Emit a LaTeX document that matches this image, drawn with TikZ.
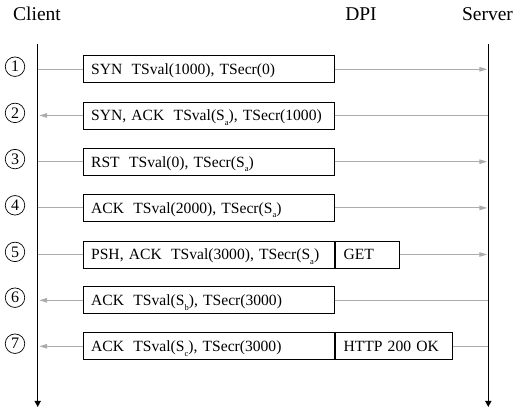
\documentclass[tikz,border=0pt]{standalone}
\usepackage{fontspec}
\setmainfont{Liberation Serif}
\usetikzlibrary{arrows.meta}
\definecolor{msggray}{RGB}{172,172,172}
\newcommand{\gap}{\hspace{0.6em}}
\newcommand{\lowidx}[1]{\raisebox{-0.28em}{\fontsize{8.5}{9}\selectfont #1}}
\tikzset{
  x=1pt, y=-1pt,
  party/.style={font=\fontsize{19.5}{22}\selectfont, anchor=base, inner sep=0pt},
  lifeline/.style={draw=black, line width=1.4pt, -{Triangle[length=6pt,width=6pt]}},
  pktbox/.style={draw=black, line width=0.9pt, minimum height=27pt, text depth=0pt,
                 anchor=west, align=left, inner xsep=8pt, inner ysep=0pt,
                 font=\fontsize{15.6}{18}\selectfont},
  hdrbox/.style={pktbox, minimum width=251.5pt, text width=235.5pt},
  stepnum/.style={draw=black, circle, line width=0.7pt, minimum size=19.5pt, inner sep=0pt,
                  font=\fontsize{16}{17}\selectfont},
  msgline/.style={draw=msggray, line width=1.2pt},
  msgarrow/.style={msgline, -{Triangle[length=8pt,width=4.5pt]}},
}
\begin{document}
\begin{tikzpicture}
  \useasboundingbox (0,0) rectangle (514,411);

  % parties
  \node[party] (client) at (37,20.7) {Client};
  \node[party] (dpi)    at (361,20.7) {DPI};
  \node[party] (server) at (487.5,20.7) {Server};

  % lifelines
  \coordinate (ctop) at (37.7,44);
  \coordinate (cbot) at (37.7,407);
  \coordinate (stop) at (488.3,44);
  \coordinate (sbot) at (488.3,407);
  \draw[lifeline] (ctop) -- (cbot);
  \draw[lifeline] (stop) -- (sbot);

  % rows: step number and anchors on both lifelines
  \foreach \i/\yy in {1/69.3,2/115.5,3/161.7,4/207.9,5/254.5,6/300.3,7/346.3}{
    \node[stepnum] (n\i) at (15,\yy-2.6) {\i};
    \coordinate (c\i) at (37.7,\yy);
    \coordinate (s\i) at (488.3,\yy);
  }

  % header boxes
  \node[hdrbox] (b1) at (c1 -| 82.7,0) {\mbox{SYN\gap TSval(1000), TSecr(0)}};
  \node[hdrbox] (b2) at (c2 -| 82.7,0) {\mbox{SYN, ACK\gap TSval(S\lowidx{a}), TSecr(1000)}};
  \node[hdrbox] (b3) at (c3 -| 82.7,0) {\mbox{RST\gap TSval(0), TSecr(S\lowidx{a})}};
  \node[hdrbox] (b4) at (c4 -| 82.7,0) {\mbox{ACK\gap TSval(2000), TSecr(S\lowidx{a})}};
  \node[hdrbox] (b5) at (c5 -| 82.7,0) {\mbox{PSH, ACK\gap TSval(3000), TSecr(S\lowidx{a})}};
  \node[hdrbox] (b6) at (c6 -| 82.7,0) {\mbox{ACK\gap TSval(S\lowidx{b}), TSecr(3000)}};
  \node[hdrbox] (b7) at (c7 -| 82.7,0) {\mbox{ACK\gap TSval(S\lowidx{c}), TSecr(3000)}};

  % payload boxes
  \node[pktbox, minimum width=64pt, text width=48pt] (p5) at (b5.east) {GET};
  \node[pktbox, minimum width=117pt, text width=101pt] (p7) at (b7.east) {HTTP 200 OK};

  % client -> server
  \foreach \i in {1,3,4}{
    \draw[msgline] (c\i) -- (b\i.west);
    \draw[msgarrow, shorten >=1pt] (b\i.east) -- (s\i);
  }
  \draw[msgline] (c5) -- (b5.west);
  \draw[msgarrow, shorten >=1pt] (p5.east) -- (s5);

  % server -> client
  \foreach \i in {2,6}{
    \draw[msgline] (s\i) -- (b\i.east);
    \draw[msgarrow, shorten >=1.5pt] (b\i.west) -- (c\i);
  }
  \draw[msgline] (s7) -- (p7.east);
  \draw[msgarrow, shorten >=1.5pt] (b7.west) -- (c7);
\end{tikzpicture}
\end{document}
